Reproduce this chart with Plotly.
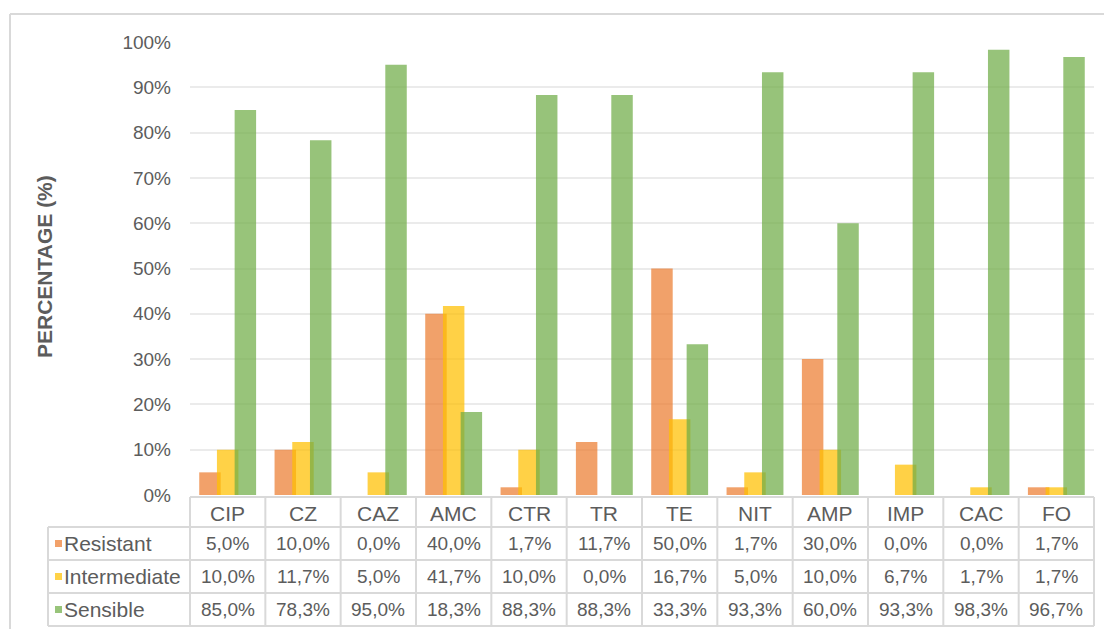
import plotly.graph_objects as go

categories = ["CIP", "CZ", "CAZ", "AMC", "CTR", "TR", "TE", "NIT", "AMP", "IMP", "CAC", "FO"]
series_names = ["Resistant", "Intermediate", "Sensible"]
resistant = [5.0, 10.0, 0.0, 40.0, 1.7, 11.7, 50.0, 1.7, 30.0, 0.0, 0.0, 1.7]
intermediate = [10.0, 11.7, 5.0, 41.7, 10.0, 0.0, 16.7, 5.0, 10.0, 6.7, 1.7, 1.7]
sensible = [85.0, 78.3, 95.0, 18.3, 88.3, 88.3, 33.3, 93.3, 60.0, 93.3, 98.3, 96.7]
y_ticks = [0, 10, 20, 30, 40, 50, 60, 70, 80, 90, 100]
y_tick_labels = [f"{v}%" for v in y_ticks]

W, H = 1104, 629
L, R, T, B = 190, 1094, 42, 495  # plot area in px

def px(xp):
    return (xp - L) / (R - L)

def py(yp):
    return (B - yp) / (B - T)

colors = ["#ED7D31", "#FFC000", "#70AD47"]
values = [resistant, intermediate, sensible]
bw = 0.285
step = 0.235
offsets = [-step - bw / 2, -bw / 2, step - bw / 2]

fig = go.Figure()
for name, vals, col, off in zip(series_names, values, colors, offsets):
    fig.add_trace(go.Bar(
        x=categories, y=vals, name=name,
        marker=dict(color=col, line=dict(width=0)),
        opacity=0.72, width=bw, offset=off, showlegend=False,
    ))

grey = "#5c5c5c"
line_col = "#D9D9D9"
family = "Arial, Liberation Sans, sans-serif"
shapes = []
annotations = []

# outer frame (top and left edges; the rest lies outside the picture)
shapes.append(dict(type="line", xref="paper", yref="paper",
                   x0=px(10), x1=px(1140), y0=py(14), y1=py(14),
                   line=dict(color=line_col, width=2), layer="below"))
shapes.append(dict(type="line", xref="paper", yref="paper",
                   x0=px(10), x1=px(10), y0=py(14), y1=py(660),
                   line=dict(color=line_col, width=2), layer="below"))

# table geometry
ncat = len(categories)
colw = (R - L) / ncat
row_y = [497, 527, 560, 593, 626]
leg_left = 48

shapes.append(dict(type="line", xref="paper", yref="paper",
                   x0=px(L), x1=px(R), y0=py(row_y[0]), y1=py(row_y[0]),
                   line=dict(color=line_col, width=2)))
for yy in row_y[1:]:
    shapes.append(dict(type="line", xref="paper", yref="paper",
                       x0=px(leg_left), x1=px(R), y0=py(yy), y1=py(yy),
                       line=dict(color=line_col, width=2)))
for i in range(ncat + 1):
    xx = L + i * colw
    shapes.append(dict(type="line", xref="paper", yref="paper",
                       x0=px(xx), x1=px(xx), y0=py(row_y[0]), y1=py(row_y[-1]),
                       line=dict(color=line_col, width=2)))
shapes.append(dict(type="line", xref="paper", yref="paper",
                   x0=px(leg_left), x1=px(leg_left), y0=py(row_y[1]), y1=py(row_y[-1]),
                   line=dict(color=line_col, width=2)))

font_text = dict(family=family, size=21, color=grey)
font_num = dict(family=family, size=19, color=grey)

for i, c in enumerate(categories):
    annotations.append(dict(xref="paper", yref="paper",
                            x=px(L + (i + 0.5) * colw), y=py((row_y[0] + row_y[1]) / 2 + 1),
                            text=c, showarrow=False, font=font_text,
                            xanchor="center", yanchor="middle"))

for r, (name, vals, col) in enumerate(zip(series_names, values, colors)):
    yc = (row_y[r + 1] + row_y[r + 2]) / 2
    shapes.append(dict(type="rect", xref="paper", yref="paper",
                       x0=px(55), x1=px(62), y0=py(yc - 3.5), y1=py(yc + 3.5),
                       fillcolor=col, opacity=0.72, line=dict(width=0)))
    annotations.append(dict(xref="paper", yref="paper", x=px(62), y=py(yc),
                            text=name, showarrow=False, font=font_text,
                            xanchor="left", yanchor="middle"))
    for i, v in enumerate(vals):
        txt = f"{v:.1f}".replace(".", ",") + "%"
        annotations.append(dict(xref="paper", yref="paper",
                                x=px(L + (i + 0.5) * colw), y=py(yc),
                                text=txt, showarrow=False, font=font_num,
                                xanchor="center", yanchor="middle"))

annotations.append(dict(xref="paper", yref="paper", x=px(44), y=py(267),
                        text="<b>PERCENTAGE (%)</b>", textangle=-90, showarrow=False,
                        font=dict(family=family, size=21, color=grey),
                        xanchor="center", yanchor="middle"))

fig.update_layout(
    width=W, height=H,
    margin=dict(l=L, r=W - R, t=T, b=H - B, pad=0),
    paper_bgcolor="white", plot_bgcolor="white",
    barmode="overlay",
    shapes=shapes, annotations=annotations,
    font=font_num,
    xaxis=dict(type="category", showticklabels=False, showgrid=False,
               zeroline=False, showline=False, range=[-0.5, ncat - 0.5]),
    yaxis=dict(range=[0, 100], tickmode="array", tickvals=y_ticks, ticktext=y_tick_labels,
               showgrid=True, gridcolor="#EBEBEB", gridwidth=1.5,
               zeroline=False, showline=False, ticks="",
               ticklabelstandoff=18,
               tickfont=dict(family=family, size=19, color=grey)),
)

fig.write_html("out.html", config={"displayModeBar": False},
               post_script="document.body.style.margin='0';document.body.style.overflow='hidden';")
